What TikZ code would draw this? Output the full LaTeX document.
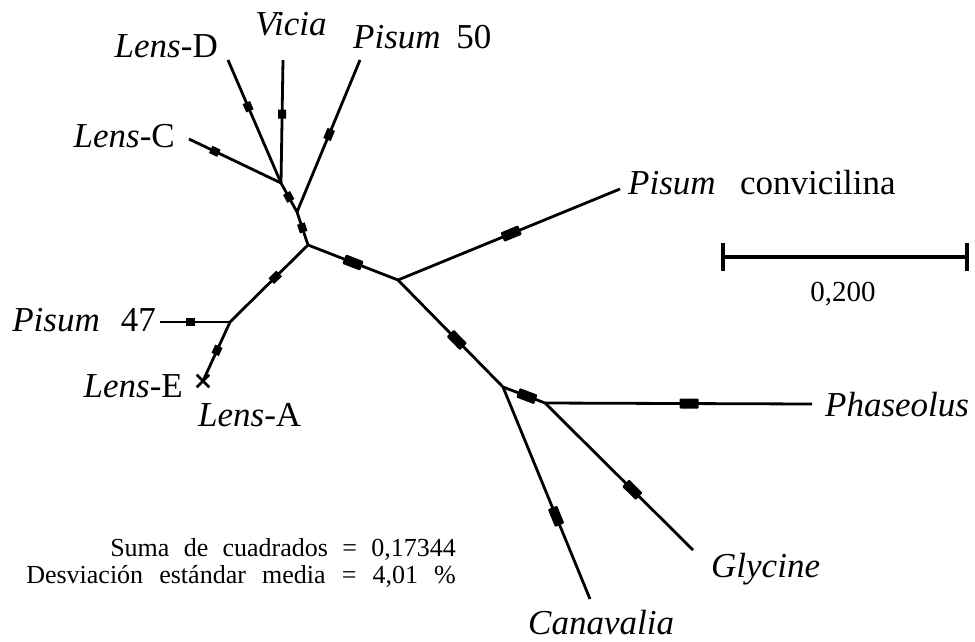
\documentclass[tikz,border=0pt]{standalone}
\usepackage{fontspec}
\setmainfont{Liberation Serif}
\usetikzlibrary{shapes.misc}
\begin{document}
\begin{tikzpicture}[x=1pt,y=-1pt,
  branch/.style={line width=2.8pt},
  mks/.style={sloped,rectangle,fill=black,inner sep=0pt,minimum width=9pt,minimum height=8pt},
  mkl/.style={sloped,rectangle,fill=black,inner sep=0pt,minimum width=19pt,minimum height=10pt,rounded corners=1pt},
  taxon/.style={inner sep=0pt,font=\fontsize{35}{38}\selectfont},
  note/.style={inner sep=0pt,font=\fontsize{26}{30}\selectfont}]
\useasboundingbox (0,0) rectangle (975,641);

% tips
\coordinate (LD) at (228,60);
\coordinate (Vi) at (283,60);
\coordinate (P50) at (360,60);
\coordinate (LC) at (189,139);
\coordinate (P47) at (160,322);
\coordinate (LEA) at (203,381);
\coordinate (Pc) at (620,189);
\coordinate (Ph) at (812,404);
\coordinate (Gl) at (693,550);
\coordinate (Ca) at (590,599);
% inner nodes
\coordinate (J1) at (281,183);
\coordinate (J2) at (297,212);
\coordinate (J3) at (308,245);
\coordinate (J4) at (230,322);
\coordinate (J5) at (398,280);
\coordinate (J6) at (503,387);
\coordinate (J7) at (545,403);

% branches with their marks
\draw[branch] (LC) -- node[mks,pos=0.28]{} (J1);
\draw[branch] (LD) -- node[mks,pos=0.38]{} (J1);
\draw[branch] (Vi) -- node[mks,pos=0.44]{} (J1);
\draw[branch] (P50) -- node[mks,pos=0.49,minimum width=11pt]{} (J2);
\draw[branch] (J1) -- node[mks,pos=0.48]{} (J2);
\draw[branch] (J2) -- node[mks,pos=0.48]{} (J3);
\draw[branch] (J3) -- node[mks,pos=0.42,minimum width=11pt]{} (J4);
\draw[branch] (J4) -- node[mks,pos=0.57]{} (P47);
\draw[branch] (J4) -- node[mks,pos=0.48]{} (LEA);
\node[cross out,draw,line width=2.6pt,minimum size=10pt,inner sep=0pt] (X) at (LEA) {};
\draw[branch] (J3) -- node[mkl,pos=0.5]{} (J5);
\draw[branch] (J5) -- node[mkl,pos=0.51]{} (Pc);
\draw[branch] (J5) -- node[mkl,pos=0.56]{} (J6);
\draw[branch] (J6) -- node[mkl,pos=0.57]{} (J7);
\draw[branch] (J7) -- node[mkl,pos=0.54]{} (Ph);
\draw[branch] (J7) -- node[mkl,pos=0.59]{} (Gl);
\draw[branch] (J6) -- node[mkl,pos=0.61]{} (Ca);

% taxon labels
\node[taxon,anchor=base east] (tLD) at (218,57) {\textit{Lens}-D};
\node[taxon,anchor=base] (tVi) at (291,35) {\textit{Vicia}};
\node[taxon,anchor=base west] (tP50) at (353,48) {\textit{Pisum}\hspace{0.45em}50};
\node[taxon,anchor=base east] (tLC) at (175,147) {\textit{Lens}-C};
\node[taxon,anchor=base east] (tP47) at (156,331) {\textit{Pisum}\hspace{0.6em}47};
\node[taxon,anchor=base east] (tLE) at (183,397) {\textit{Lens}-E};
\node[taxon,anchor=base west] (tLA) at (198,426) {\textit{Lens}-A};
\node[taxon,anchor=base west] (tPc) at (628,194) {\textit{Pisum}\hspace{0.7em}convicilina};
\node[taxon,anchor=base west] (tPh) at (825,416) {\textit{Phaseolus}};
\node[taxon,anchor=base west] (tGl) at (711,577) {\textit{Glycine}};
\node[taxon,anchor=base west] (tCa) at (528,634) {\textit{Canavalia}};

% scale bar
\coordinate (S1) at (723,257);
\coordinate (S2) at (967,257);
\draw[line width=3.2pt] (S1) -- (S2);
\draw[line width=3.2pt] ([yshift=-14pt]S1) -- ([yshift=14pt]S1);
\draw[line width=3.2pt] ([yshift=-14pt]S2) -- ([yshift=14pt]S2);
\node[inner sep=0pt,anchor=base,font=\fontsize{29}{32}\selectfont] (sl) at (843,301) {0,200};

% fit statistics
\node[note,anchor=base east] (n1) at (456,556) {Suma\hspace{0.55em}de\hspace{0.55em}cuadrados\hspace{0.55em}=\hspace{0.55em}0,17344};
\node[note,anchor=base east] (n2) at (456,583) {Desviación\hspace{0.62em}estándar\hspace{0.62em}media\hspace{0.62em}=\hspace{0.62em}4,01\hspace{0.62em}\%};
\end{tikzpicture}
\end{document}
